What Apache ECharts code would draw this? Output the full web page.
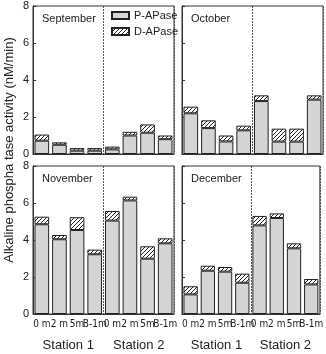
<!DOCTYPE html>
<html>
<head>
<meta charset="utf-8">
<script src="https://cdn.jsdelivr.net/npm/echarts@6/dist/echarts.min.js"></script>
<style>
  html, body { margin: 0; padding: 0; background: #fff; }
  #main { width: 326px; height: 354px; }
</style>
</head>
<body>
<div id="main"></div>
<script>
var months = ['September', 'October', 'November', 'December'];
var depths = ['0 m', '2 m', '5m', 'B-1m', '0 m', '2 m', '5m', 'B-1m'];
var stations = ['Station 1', 'Station 2'];
var yTicks = [0, 2, 4, 6, 8];

// P-APase / D-APase (nM/min), per month
var pSep = [0.72, 0.50, 0.18, 0.18, 0.25, 1.00, 1.15, 0.80];
var dSep = [0.33, 0.13, 0.14, 0.14, 0.15, 0.20, 0.45, 0.20];
var pOct = [2.20, 1.40, 0.68, 1.28, 2.86, 0.67, 0.67, 2.94];
var dOct = [0.36, 0.42, 0.32, 0.25, 0.31, 0.70, 0.70, 0.23];
var pNov = [4.85, 4.04, 4.54, 3.23, 5.05, 6.14, 2.99, 3.82];
var dNov = [0.41, 0.23, 0.69, 0.25, 0.52, 0.20, 0.67, 0.27];
var pDec = [1.06, 2.34, 2.29, 1.69, 4.79, 5.19, 3.55, 1.60];
var dDec = [0.44, 0.27, 0.25, 0.49, 0.51, 0.25, 0.27, 0.29];

var pData = [pSep, pOct, pNov, pDec];
var dData = [dSep, dOct, dNov, dDec];

// hatch pattern for D-APase
var hatch = document.createElement('canvas');
hatch.width = 4; hatch.height = 4;
var hc = hatch.getContext('2d');
hc.fillStyle = '#fff';
hc.fillRect(0, 0, 4, 4);
hc.strokeStyle = '#222';
hc.lineWidth = 1;
hc.beginPath();
hc.moveTo(0, 4); hc.lineTo(4, 0);
hc.moveTo(-1, 1); hc.lineTo(1, -1);
hc.moveTo(3, 5); hc.lineTo(5, 3);
hc.stroke();

var chart = echarts.init(document.getElementById('main'));
var font = "'Liberation Sans', Arial, sans-serif";
var narrow = "'DejaVu Sans Condensed', 'Liberation Sans Narrow', sans-serif";

var boxes = [
    {left: 33, top: 6},
    {left: 182, top: 6},
    {left: 33, top: 166},
    {left: 182, top: 166}
];

var grids = [], xAxes = [], yAxes = [], series = [], titles = [];
var xIdx = [];
boxes.forEach(function (b, i) {
    var bottomRow = i >= 2, leftCol = i % 2 === 0;
    grids.push({left: b.left, top: b.top, width: 141, height: 148,
        show: true, borderColor: '#333', borderWidth: 1, backgroundColor: '#fff'});
    // hidden value axis only used for the station divider
    xAxes.push({
        type: 'value', gridIndex: i, position: 'top', min: 0, max: 8, interval: 4,
        axisLine: {show: false}, axisTick: {show: false}, axisLabel: {show: false},
        splitLine: {show: true, lineStyle: {color: '#555', type: [2, 1], width: 1}}
    });
    xIdx.push(xAxes.length);
    xAxes.push({
        type: 'category', gridIndex: i, data: depths, position: 'bottom',
        axisLine: {lineStyle: {color: '#333'}},
        axisTick: {show: false},
        axisLabel: {show: bottomRow, interval: 0, fontSize: 10, margin: 5, color: '#222',
            fontFamily: narrow}
    });
    if (bottomRow) {
        xAxes.push({
            type: 'category', gridIndex: i, data: stations, position: 'bottom', offset: 17,
            axisLine: {show: false}, axisTick: {show: false},
            axisLabel: {fontSize: 13, color: '#222', fontFamily: font, interval: 0}
        });
    }
    yAxes.push({
        type: 'value', gridIndex: i, min: yTicks[0], max: yTicks[yTicks.length - 1], interval: 2,
        axisLine: {show: true, lineStyle: {color: '#333'}},
        axisTick: {show: true, inside: true, length: 3, lineStyle: {color: '#333'}},
        axisLabel: {show: leftCol, fontSize: 11, margin: 4, color: '#222', fontFamily: font},
        splitLine: {show: false}
    });
    titles.push({text: months[i], left: b.left + 4, top: b.top + 2,
        textStyle: {fontSize: 11, fontWeight: 'normal', color: '#222', fontFamily: font}});
});

for (var i = 0; i < 4; i++) {
    series.push({
        name: 'P-APase', type: 'bar', stack: 's' + i,
        xAxisIndex: xIdx[i], yAxisIndex: i, data: pData[i],
        barCategoryGap: '17%',
        itemStyle: {color: '#d4d4d4', borderColor: '#222', borderWidth: 1},
        emphasis: {disabled: true}
    });
    series.push({
        name: 'D-APase', type: 'bar', stack: 's' + i,
        xAxisIndex: xIdx[i], yAxisIndex: i, data: dData[i],
        barCategoryGap: '17%',
        itemStyle: {color: {image: hatch, repeat: 'repeat'}, borderColor: '#222', borderWidth: 1},
        emphasis: {disabled: true}
    });
}

chart.setOption({
    animation: false,
    title: titles,
    legend: {
        data: ['P-APase', 'D-APase'], orient: 'vertical', left: 106, top: 5,
        icon: 'rect', itemWidth: 17, itemHeight: 7, itemGap: 5,
        textStyle: {fontSize: 11, color: '#222', fontFamily: font}
    },
    grid: grids,
    xAxis: xAxes,
    yAxis: yAxes,
    series: series,
    graphic: [{
        type: 'text', x: 3, y: 150, rotation: Math.PI / 2,
        style: {text: 'Alkaline phospha tase activity (nM/min)',
            fill: '#222', font: "13px 'Liberation Sans', Arial, sans-serif",
            textAlign: 'center', textVerticalAlign: 'top'}
    }]
});
</script>
</body>
</html>
